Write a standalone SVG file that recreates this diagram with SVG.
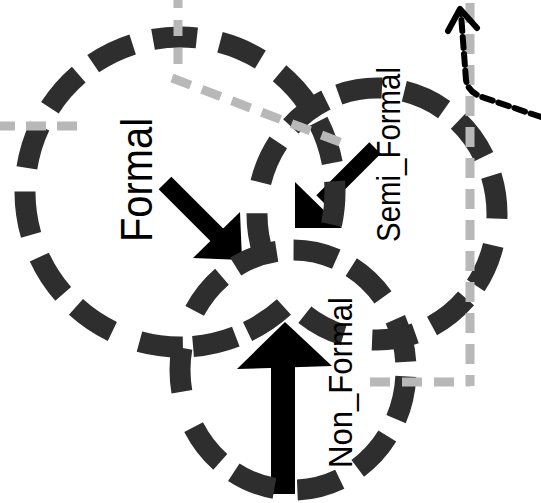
<svg xmlns="http://www.w3.org/2000/svg" width="541" height="503" viewBox="0 0 541 503">
  <defs>
    <style>
      .ring { fill: none; stroke: #2e2e2e; stroke-width: 21; }
      .guide { fill: none; stroke: #b8b8b8; stroke-width: 9; }
      .flow { fill: none; stroke: #000000; stroke-width: 6; stroke-dasharray: 11 6; stroke-linecap: round; }
      .shaft { fill: none; stroke: #000000; }
      .head { fill: #000000; stroke: none; }
      .label { font-family: "Liberation Sans", Arial, sans-serif; fill: #000000; }
    </style>
  </defs>
  <rect x="0" y="0" width="541" height="503" fill="#ffffff"/>

  <g id="connectors">
    <g id="arrow-formal">
      <line class="shaft" stroke-width="18" x1="165" y1="183" x2="220" y2="238"/>
      <polygon class="head" points="242,260 193,258 240,212"/>
    </g>
    <g id="arrow-semi-formal">
      <line class="shaft" stroke-width="16" x1="375" y1="148" x2="322" y2="201"/>
      <polygon class="head" points="295,228 295,182 342,228"/>
    </g>
    <g id="arrow-non-formal">
      <rect class="head" x="271" y="364" width="24" height="130"/>
      <polygon class="head" points="285,322 237,369 332,366"/>
    </g>
  </g>

  <g id="Formal">
    <circle class="ring" cx="180" cy="192" r="155" stroke-dasharray="44 96.7 44 12.8 44 10.1 44 29 44 18.2 44 23.7 44 23.6 44 20.9 44 18.2 44 21 44 23.6 44 23.6 44 18.2 44 18.3" stroke-dashoffset="11.2"/>
  </g>
  <g id="Semi_Formal">
    <ellipse class="ring" cx="377" cy="214" rx="120" ry="126" stroke-dasharray="44 16.1 44 18.3 44 29 44 71.9 44 31.1 44 20.4 44 14 44 22.6 44 18.2 44 20.4 44 27" stroke-dashoffset="-31.7"/>
  </g>
  <g id="Non_Formal">
    <ellipse class="ring" cx="293" cy="370" rx="113" ry="120" stroke-dasharray="44 19 44 21 44 23.1 44 17 44 37.4 44 39.3 44 17 44 17 44 17 44 25.1 44 15.1" stroke-dashoffset="-6.5"/>
  </g>

  <g id="guides">
    <line class="guide" stroke-dasharray="16 12" x1="178" y1="-8" x2="178" y2="66"/>
    <line class="guide" stroke-dasharray="20 11" x1="-5" y1="126" x2="80" y2="126"/>
    <line class="guide" stroke-dasharray="20 12" x1="172" y1="78" x2="345" y2="144"/>
    <line class="guide" stroke-dasharray="20 11" x1="470" y1="3" x2="470" y2="386"/>
    <line class="guide" stroke-dasharray="20 12" x1="370" y1="382" x2="470" y2="382"/>
  </g>

  <g id="flow-out">
    <path class="flow" d="M 541,117 L 482,97 Q 468,92 466,80 L 461,14"/>
    <polyline fill="none" stroke="#000000" stroke-width="6" stroke-linecap="round" stroke-linejoin="round" points="448,31 460,9 477,28"/>
  </g>

  <g id="labels">
    <text class="label" font-size="44" textLength="124" lengthAdjust="spacingAndGlyphs" transform="translate(152,242) rotate(-90)">Formal</text>
    <text class="label" font-size="34" textLength="175" lengthAdjust="spacingAndGlyphs" transform="translate(400,242) rotate(-90)">Semi_Formal</text>
    <text class="label" font-size="33" textLength="171" lengthAdjust="spacingAndGlyphs" transform="translate(352,468) rotate(-90)">Non_Formal</text>
  </g>
</svg>
